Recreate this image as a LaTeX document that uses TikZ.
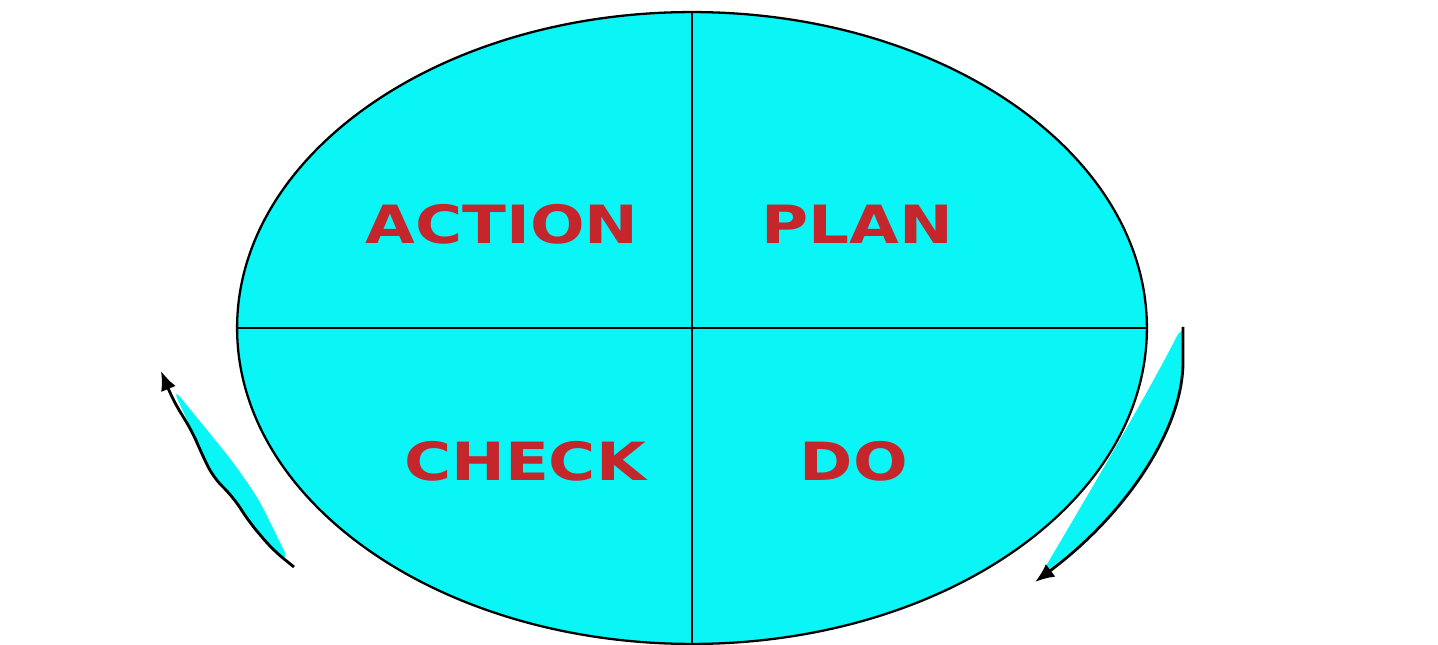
\documentclass[tikz,border=0pt]{standalone}
\usepackage{fontspec}
\setmainfont{DejaVu Sans}
\usetikzlibrary{shapes.geometric, arrows.meta}
\definecolor{pdcacyan}{RGB}{10,245,245}
\definecolor{pdcared}{RGB}{196,38,44}

\begin{document}
\begin{tikzpicture}[x=0.02cm, y=-0.02cm,
  label/.style={text=pdcared, font=\fontsize{30}{36}\selectfont\bfseries},
  sliver/.style={fill=pdcacyan, draw=none},
  turn/.style={draw=black, line width=1.6pt, -{Latex[length=11pt, width=9pt]}}]
\useasboundingbox (0,0) rectangle (1438,645);
% cycle
\node[ellipse, draw, line width=1.3pt, fill=pdcacyan, inner sep=0pt,
  minimum width=18.2cm, minimum height=12.64cm] (cycle) at (692,328) {};
\draw[line width=1.2pt] (cycle.north) -- (cycle.south);
\draw[line width=1.2pt] (cycle.west) -- (cycle.east);
% quarters
\node[label] (act) at (502,224) {\scalebox{1.22}[1]{ACTION}};
\node[label] (plan) at (857,224) {\scalebox{1.22}[1]{PLAN}};
\node[label] (chk) at (525,461) {\scalebox{1.22}[1]{CHECK}};
\node[label] (do) at (854,461) {\scalebox{1.22}[1]{DO}};
% arrows
\coordinate (rtop) at (1183,327);
\coordinate (rend) at (1035,582);
\coordinate (lbot) at (294,567);
\coordinate (lend) at (161,371);
\fill[sliver] (1183,330) -- (1183,362) .. controls (1183,430) and (1125,515) .. (1040,576)
  .. controls (1085,500) and (1150,390) .. (1178,334) -- cycle;
\draw[turn] (rtop) -- (1183,362) .. controls (1183,430) and (1125,515) .. (rend);
\fill[sliver, rounded corners=8pt] (172,387) -- (203,425) -- (233,462) -- (258,498)
  -- (273,528) -- (290,563) -- (273,550) -- (250,523) -- (233,497) -- (213,477)
  -- (200,450) -- (193,433) -- cycle;
\draw[turn, rounded corners=7pt] (lbot) -- (273,550) -- (250,523) -- (233,497)
  -- (213,477) -- (200,450) -- (193,433) -- (173,400) -- (lend);
\end{tikzpicture}
\end{document}
